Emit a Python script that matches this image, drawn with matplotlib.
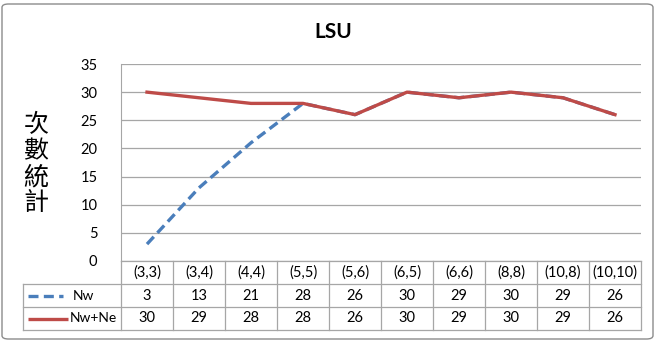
import matplotlib.pyplot as plt
from matplotlib.patches import FancyBboxPatch
from matplotlib.transforms import blended_transform_factory
import numpy as np

categories = ['(3,3)', '(3,4)', '(4,4)', '(5,5)', '(5,6)', '(6,5)', '(6,6)', '(8,8)', '(10,8)', '(10,10)']
nw = [3, 13, 21, 28, 26, 30, 29, 30, 29, 26]
nw_ne = [30, 29, 28, 28, 26, 30, 29, 30, 29, 26]
series_names = ['Nw', 'Nw+Ne']
y_ticks = [0, 5, 10, 15, 20, 25, 30, 35]

W, H = 657, 341
blue = '#4a7ebb'
red = '#be4b48'
grid_c = '#a6a6a6'
font = ['Lato', 'DejaVu Sans']
fs = 10.5

fig = plt.figure(figsize=(W / 100, H / 100), dpi=100)
fig.patches.append(FancyBboxPatch((2 / W, 2 / H), 651 / W, 335 / H,
                                  boxstyle='round,pad=0,rounding_size=0.01',
                                  transform=fig.transFigure, fill=False,
                                  edgecolor='#8c8c8c', linewidth=1.0))

left, right, top, bottom = 121, 641, 64, 261
ax = fig.add_axes([left / W, 1 - bottom / H, (right - left) / W, (bottom - top) / H])

x = np.arange(len(categories))
ax.plot(x, nw, color=blue, linewidth=2.4, linestyle=(0, (3, 1.6)), zorder=3)
ax.plot(x, nw_ne, color=red, linewidth=2.4, zorder=4)

ax.set_xlim(-0.5, len(categories) - 0.5)
ax.set_ylim(0, 35)
ax.set_yticks(y_ticks)
ax.set_xticks([])
ax.yaxis.grid(True, color=grid_c, linewidth=0.9)
ax.set_axisbelow(True)
for s in ['top', 'right', 'bottom']:
    ax.spines[s].set_visible(False)
ax.spines['left'].set_color(grid_c)
ax.tick_params(axis='y', length=0, pad=17, labelsize=fs)
for lab in ax.get_yticklabels():
    lab.set_family(font)

fig.text(333 / W, 1 - 32 / H, 'LSU', ha='center', va='center',
         fontsize=15, fontweight='bold', family=font)
fig.text(36 / W, 1 - 164 / H, '次\n數\n統\n計', ha='center', va='center',
         fontsize=18, linespacing=1.0, family=['Noto Sans CJK TC', 'DejaVu Sans'])

# data table under the plot
tr = blended_transform_factory(ax.transData, ax.transAxes)
row_h = 23 / (bottom - top)
leg_left = -0.5 - 98 / 52
n = len(categories)
kw = dict(transform=tr, clip_on=False, color=grid_c, linewidth=0.9)

for r in range(4):
    y = -r * row_h
    xs = -0.5 if r == 0 else leg_left
    ax.plot([xs, n - 0.5], [y, y], **kw)
for i in range(n + 1):
    ax.plot([i - 0.5, i - 0.5], [0, -3 * row_h], **kw)
ax.plot([leg_left, leg_left], [-row_h, -3 * row_h], **kw)

for i, c in enumerate(categories):
    ax.text(i, -0.5 * row_h, c, transform=tr, ha='center', va='center',
            fontsize=fs, family=font)
    for r, vals in enumerate([nw, nw_ne]):
        ax.text(i, -(1.5 + r) * row_h, str(vals[i]), transform=tr,
                ha='center', va='center', fontsize=fs, family=font)

# legend keys inside the table
ax.plot([leg_left + 0.1, leg_left + 0.77], [-1.5 * row_h] * 2, transform=tr,
        clip_on=False, color=blue, linewidth=2.4, linestyle=(0, (3, 1.6)),
        dash_capstyle='butt')
ax.plot([leg_left + 0.1, leg_left + 0.86], [-2.5 * row_h] * 2, transform=tr,
        clip_on=False, color=red, linewidth=2.4, solid_capstyle='butt')
ax.text(leg_left + 0.96, -1.5 * row_h, series_names[0], transform=tr,
        ha='left', va='center', fontsize=10, family=font)
ax.text(leg_left + 0.9, -2.5 * row_h, series_names[1], transform=tr,
        ha='left', va='center', fontsize=10, family=font)

fig.savefig('out.png', dpi=100)
